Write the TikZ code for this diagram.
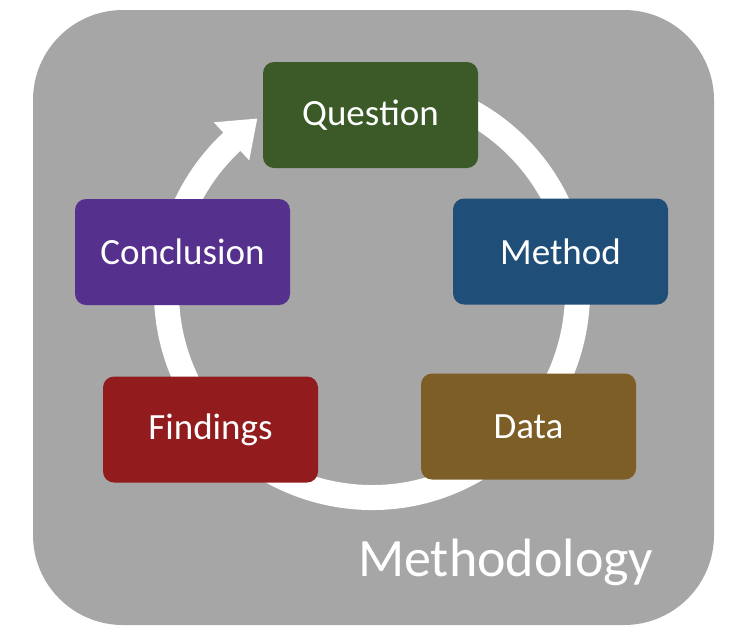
\documentclass[tikz,border=0pt]{standalone}
\usepackage{fontspec}
\setmainfont{Carlito}
\usetikzlibrary{calc}
\begin{document}
\begin{tikzpicture}[x=1pt,y=-1pt,
  stepbox/.style={rounded corners=11pt,minimum width=215pt,minimum height=106pt,
    inner sep=0pt,text=white,font=\fontsize{37}{40}\selectfont},
  ring/.style={white,line width=25pt}]
\definecolor{bgGray}{HTML}{A6A6A6}
\definecolor{qGreen}{HTML}{3B5A28}
\definecolor{mBlue}{HTML}{1F4E79}
\definecolor{dBrown}{HTML}{7D5E26}
\definecolor{fRed}{HTML}{921B1D}
\definecolor{cPurple}{HTML}{55308D}
\useasboundingbox (0,0) rectangle (746,635);
\fill[bgGray,rounded corners=90pt] (33,10) rectangle (714,625);
\coordinate (c) at (372,292);
% ring
\draw[ring] ($(c)+(-80:205.5)$) arc[start angle=-80,end angle=230,radius=205.5];
\fill[white] ($(c)+(227:232)$) -- ($(c)+(236.5:208)$) -- ($(c)+(227:180)$) -- cycle;
% boxes
\node[stepbox,fill=qGreen] (q) at (370.5,115) {Ques\kern0pt tion};
\node[stepbox,fill=mBlue] (m) at (560.5,251.5) {Method};
\node[stepbox,fill=dBrown] (d) at (528.5,426.5) {Data};
\node[stepbox,fill=fRed] (f) at (210.5,429.5) {Findings};
\node[stepbox,fill=cPurple] (cc) at (182.5,252) {Conclusion};
\node[anchor=base west,inner sep=0pt,text=white,font=\fontsize{54}{60}\selectfont] (t) at (358,576) {Methodology};
\end{tikzpicture}
\end{document}
